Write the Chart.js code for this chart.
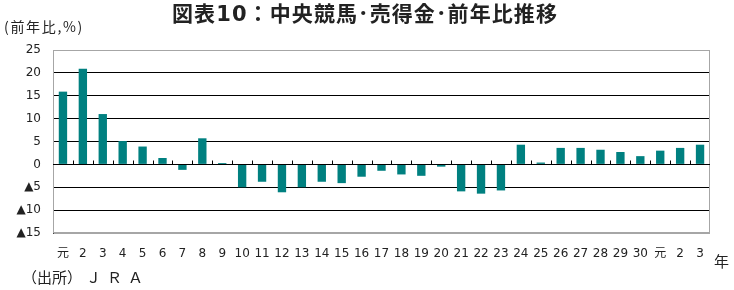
<!DOCTYPE html>
<html>
<head>
<meta charset="utf-8">
<script src="https://cdn.jsdelivr.net/npm/chart.js@4"></script>
<style>
  body { margin: 0; background: #fff; }
  #wrap { width: 734px; height: 290px; }
</style>
</head>
<body>
<div id="wrap"><canvas id="chart" width="734" height="290"></canvas></div>
<script>
// 年（平成元年～30年、令和元年～3年）
const years = ["元","2","3","4","5","6","7","8","9","10","11","12","13","14","15","16",
  "17","18","19","20","21","22","23","24","25","26","27","28","29","30","元","2","3"];
// 売得金 前年比（%）
const changes = [15.9, 20.9, 11.0, 5.1, 3.9, 1.4, -1.2, 5.7, 0.3, -5.0, -3.8, -6.1, -5.0, -3.8, -4.1, -2.7,
  -1.4, -2.2, -2.5, -0.5, -5.9, -6.4, -5.7, 4.3, 0.4, 3.6, 3.6, 3.2, 2.7, 1.8, 3.0, 3.6, 4.3];
const yTicks = [25, 20, 15, 10, 5, 0, -5, -10, -15];

const numFont = "'DejaVu Sans', 'Noto Sans CJK JP', sans-serif";
const jpFont = "'Noto Sans CJK JP', sans-serif";

// fit a text to a given width by spreading its letters
function spreadText(ctx, text, x, y, width) {
  ctx.letterSpacing = "0px";
  const w = ctx.measureText(text).width;
  const gap = Math.max(0, (width - w) / text.length);
  ctx.letterSpacing = gap + "px";
  ctx.fillText(text, x, y);
  ctx.letterSpacing = "0px";
}

const extras = {
  id: "extras",
  beforeDatasetsDraw(chart) {
    const { ctx, chartArea: a } = chart;
    ctx.save();
    ctx.strokeStyle = "#a6a6a6";
    ctx.lineWidth = 1;
    ctx.strokeRect(a.left + 0.5, a.top + 0.5, a.right - a.left - 1, a.bottom - a.top - 1);
    ctx.restore();
  },
  afterDatasetsDraw(chart) {
    const { ctx, chartArea: a, scales } = chart;
    const x = scales.x, y = scales.y;
    const y0 = Math.round(y.getPixelForValue(0)) + 0.5;
    ctx.save();
    ctx.strokeStyle = "#000";
    ctx.lineWidth = 1;
    ctx.beginPath();
    ctx.moveTo(a.left, y0);
    ctx.lineTo(a.right, y0);
    const step = x.getPixelForValue(1) - x.getPixelForValue(0);
    for (let i = 1; i < years.length; i++) {
      const px = Math.round(x.getPixelForValue(i) - step / 2) + 0.5;
      ctx.moveTo(px, y0);
      ctx.lineTo(px, y0 - 4);
    }
    ctx.stroke();

    ctx.fillStyle = "#222";
    ctx.textBaseline = "middle";
    ctx.textAlign = "left";
    ctx.font = "bold 21px " + numFont;
    spreadText(ctx, "図表10：中央競馬･売得金･前年比推移", 172, 16, 386);
    ctx.font = "14px " + jpFont;
    spreadText(ctx, "(前年比,%)", 4, 27, 80);
    ctx.font = "15px " + jpFont;
    ctx.fillText("年", 714, 261);
    ctx.fillText("（出所）", 22, 277);
    ctx.letterSpacing = "6px";
    ctx.fillText("ＪＲＡ", 86, 277);
    ctx.restore();
  }
};

new Chart(document.getElementById("chart"), {
  type: "bar",
  data: {
    labels: years,
    datasets: [{
      data: changes,
      backgroundColor: "#008080",
      barPercentage: 0.42,
      categoryPercentage: 1
    }]
  },
  options: {
    responsive: false,
    animation: false,
    layout: { padding: { top: 50, left: 0, right: 24, bottom: 27 } },
    plugins: { legend: { display: false }, tooltip: { enabled: false } },
    scales: {
      x: {
        grid: { display: false, drawTicks: false },
        border: { display: false },
        ticks: { color: "#222", font: { family: numFont, size: 12 }, padding: 14, maxRotation: 0, autoSkip: false },
        afterFit: s => { s.height = 30; }
      },
      y: {
        min: -15, max: 25,
        afterBuildTicks: s => { s.ticks = yTicks.map(v => ({ value: v })); },
        grid: {
          drawTicks: false,
          color: c => (c.tick && (c.tick.value === 25 || c.tick.value === -15)) ? "#a6a6a6" : "#000"
        },
        border: { color: "#444" },
        ticks: {
          color: "#222",
          padding: 12,
          font: { family: numFont, size: 12 },
          callback: v => v < 0 ? "▲" + (-v) : String(v)
        },
        afterFit: s => { s.width = 53; }
      }
    }
  },
  plugins: [extras]
});
</script>
</body>
</html>
